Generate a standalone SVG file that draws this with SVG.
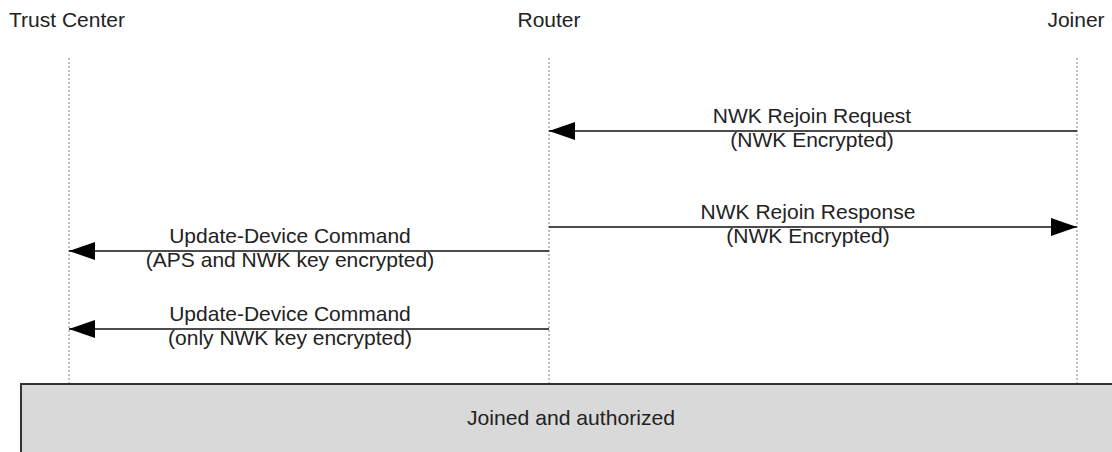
<svg xmlns="http://www.w3.org/2000/svg" width="1112" height="452" viewBox="0 0 1112 452">
<style>
text { font-family: "Liberation Sans", Arial, sans-serif; font-size: 21px; fill: #222; }
.lab { text-anchor: middle; }
.life { stroke: #808080; stroke-width: 1; stroke-dasharray: 2 2; fill: none; }
.msg { stroke: #111; stroke-width: 1.6; fill: none; marker-end: url(#ah); }
</style>
<defs>
<marker id="ah" viewBox="0 0 26 18" refX="26" refY="9" markerWidth="26" markerHeight="18" markerUnits="userSpaceOnUse" orient="auto">
<path d="M0,0 L26,9 L0,18 Z" fill="#000"/>
</marker>
</defs>
<rect width="1112" height="452" fill="#fff"/>
<g id="trust-center">
<text class="lab" x="67" y="27">Trust Center</text>
<line class="life" x1="69" y1="58" x2="69" y2="383"/>
</g>
<g id="router">
<text class="lab" x="549" y="27">Router</text>
<line class="life" x1="549" y1="58" x2="549" y2="383"/>
</g>
<g id="joiner">
<text class="lab" x="1076" y="27">Joiner</text>
<line class="life" x1="1077" y1="58" x2="1077" y2="383"/>
</g>
<g id="connectors">
<line class="msg" x1="1077" y1="131" x2="549" y2="131"/>
<text class="lab" x="812" y="123">NWK Rejoin Request</text>
<text class="lab" x="812" y="147">(NWK Encrypted)</text>
<line class="msg" x1="549" y1="227" x2="1077" y2="227"/>
<text class="lab" x="808" y="219">NWK Rejoin Response</text>
<text class="lab" x="808" y="243">(NWK Encrypted)</text>
<line class="msg" x1="549" y1="251" x2="69" y2="251"/>
<text class="lab" x="290" y="243">Update-Device Command</text>
<text class="lab" x="290" y="267">(APS and NWK key encrypted)</text>
<line class="msg" x1="549" y1="329" x2="69" y2="329"/>
<text class="lab" x="290" y="321">Update-Device Command</text>
<text class="lab" x="290" y="345">(only NWK key encrypted)</text>
</g>
<g id="joined-authorized">
<rect x="21" y="384" width="1110" height="90" fill="#d9d9d9" stroke="#333" stroke-width="2"/>
<text class="lab" x="571" y="425" font-size="23" textLength="208" lengthAdjust="spacingAndGlyphs">Joined and authorized</text>
</g>
</svg>
